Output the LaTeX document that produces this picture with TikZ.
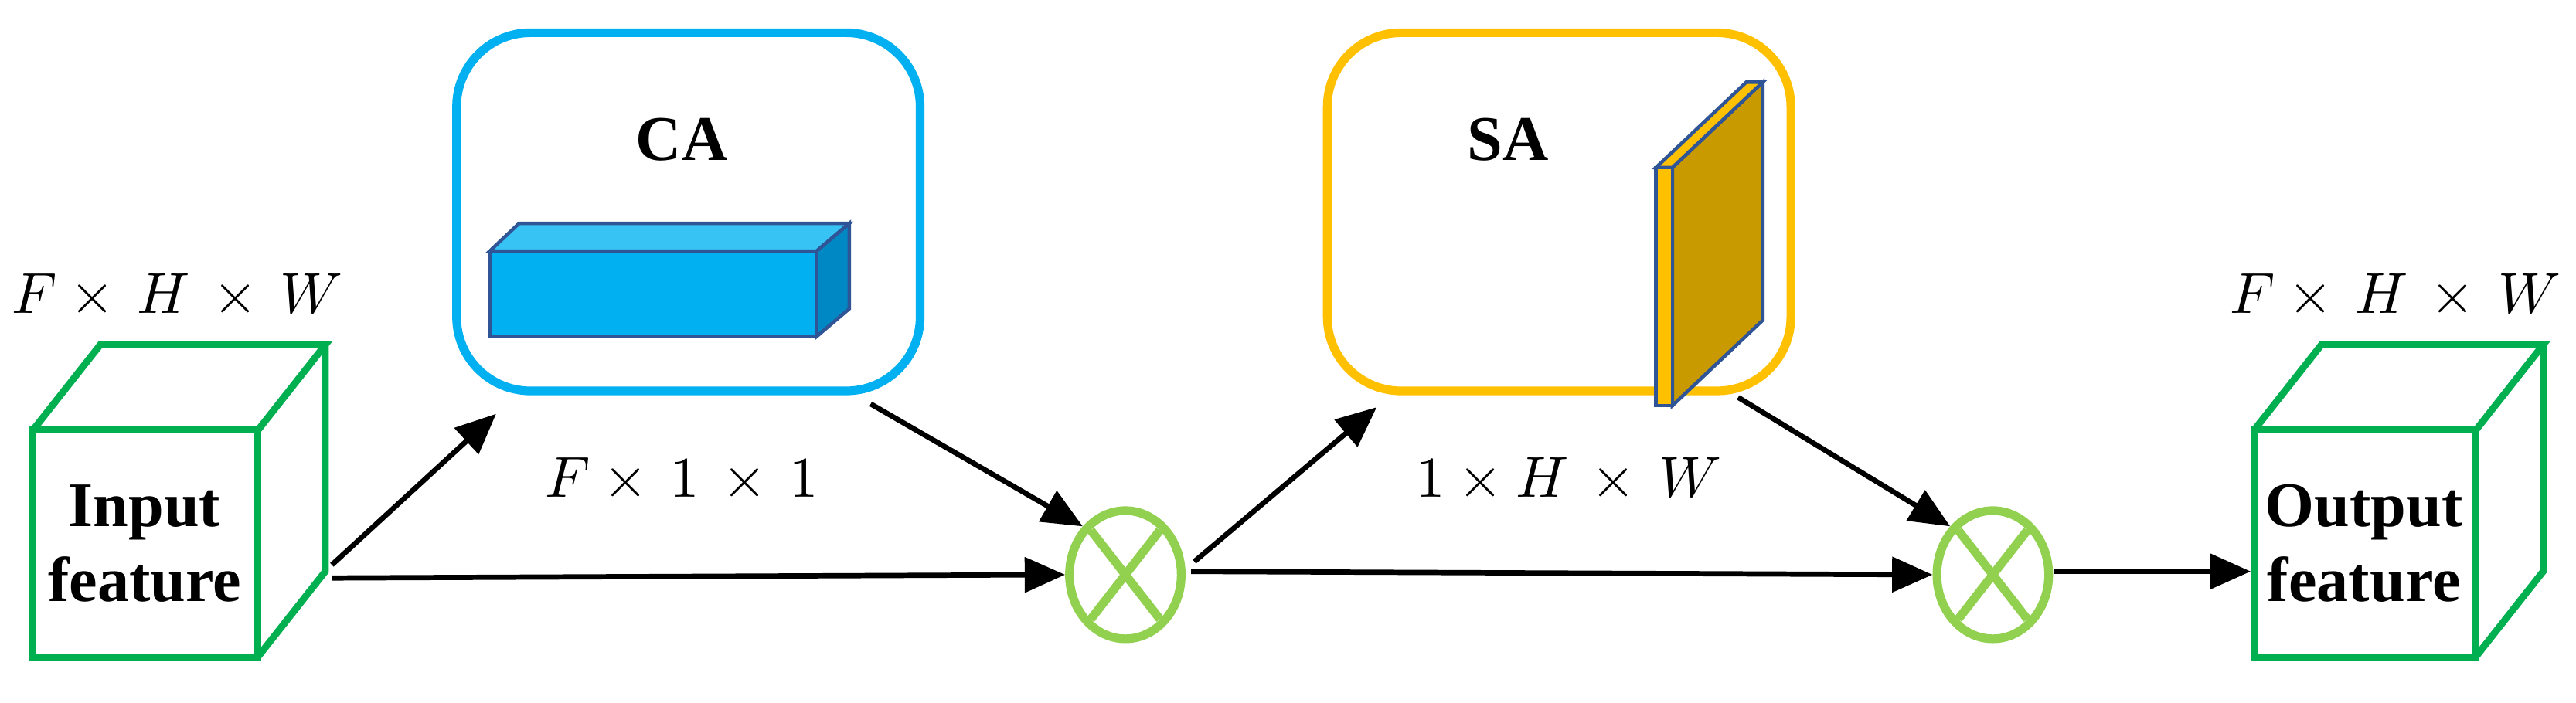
\documentclass[tikz,border=0pt]{standalone}
\usepackage{fontspec}
\setmainfont{Liberation Serif}
\usetikzlibrary{arrows.meta,shapes.geometric}
\definecolor{cablue}{HTML}{00B0F0}
\definecolor{catop}{HTML}{38C3F5}
\definecolor{caside}{HTML}{0088C4}
\definecolor{edge}{HTML}{2F5597}
\definecolor{saor}{HTML}{FFC000}
\definecolor{sabrown}{HTML}{C99A00}
\definecolor{cgreen}{HTML}{00B050}
\definecolor{lgreen}{HTML}{92D050}
\begin{document}
\begin{tikzpicture}[x=0.01cm,y=-0.01cm,
  cube/.style={draw=cgreen,line width=1.2pt,line join=miter},
  att/.style={draw,line width=1.5pt,rounded corners=0.45cm},
  lab/.style={font=\fontsize{11}{13}\selectfont\bfseries,align=center},
  dim/.style={font=\fontsize{10}{11}\selectfont},
  arr/.style={line width=0.9pt,-{Triangle[length=7pt,width=6pt]}},
  mul/.style={ellipse,draw=lgreen,line width=1.5pt,minimum width=0.68cm,minimum height=0.78cm,inner sep=0pt}]
\useasboundingbox (0,0) rectangle (1568,428);
% input cube
\draw[cube] (20,262) rectangle (157,400);
\draw[cube] (20,262) -- (61,210) -- (198,210) -- (157,262) (198,210) -- (198,348) -- (157,400);
\node[lab] (inp) at (88,331) {Input\\feature};
\node[dim] (d1) at (108,180) {$F\times\, H\,\times\, W$};
% output cube
\draw[cube] (1372,262) rectangle (1507,400);
\draw[cube] (1372,262) -- (1413,210) -- (1548,210) -- (1507,262) (1548,210) -- (1548,348) -- (1507,400);
\node[lab] (out) at (1439,331) {Output\\feature};
\node[dim] (d3) at (1458,180) {$F\times\, H\,\times\, W$};
% CA
\node[att,draw=cablue,minimum width=2.82cm,minimum height=2.18cm] (ca) at (419,129) {};
\node[lab] (calab) at (415,85) {CA};
\draw[edge,fill=cablue,line width=0.6pt] (298,153) rectangle (497,205);
\draw[edge,fill=catop,line width=0.6pt] (298,153) -- (316,136) -- (517,136) -- (497,153) -- cycle;
\draw[edge,fill=caside,line width=0.6pt] (497,153) -- (517,136) -- (517,188) -- (497,205) -- cycle;
\node[dim] (d2) at (415,292) {$F\times\, 1\,\times\, 1$};
% SA
\node[att,draw=saor,minimum width=2.82cm,minimum height=2.18cm] (sa) at (949,129) {};
\node[lab] (salab) at (918,85) {SA};
\draw[edge,fill=sabrown,line width=0.6pt] (1018,102) -- (1073,50) -- (1073,195) -- (1018,247) -- cycle;
\draw[edge,fill=saor,line width=0.6pt] (1008,102) -- (1063,50) -- (1073,50) -- (1018,102) -- cycle;
\draw[edge,fill=saor,line width=0.6pt] (1008,102) rectangle (1018,247);
\node[dim] (d4) at (955,292) {$1\times H\,\times\, W$};
% multipliers
\node[mul] (m1) at (685,350) {};
\draw[lgreen,line width=1.5pt] ([shift={(-21,-27)}]m1.center) -- ([shift={(21,27)}]m1.center)
  ([shift={(21,-27)}]m1.center) -- ([shift={(-21,27)}]m1.center);
\node[mul] (m2) at (1213,350) {};
\draw[lgreen,line width=1.5pt] ([shift={(-21,-27)}]m2.center) -- ([shift={(21,27)}]m2.center)
  ([shift={(21,-27)}]m2.center) -- ([shift={(-21,27)}]m2.center);
% connector end coordinates
\coordinate (i1) at (202,352);
\coordinate (i2) at (202,344);
\coordinate (caIn) at (302,252);
\coordinate (caOut) at (530,246);
\coordinate (m1o) at (725,348);
\coordinate (m1o2) at (727,342);
\coordinate (saIn) at (838,248);
\coordinate (saOut) at (1058,242);
\coordinate (m2o) at (1250,348);
\draw[arr] (i1) -- (m1.west);
\draw[arr] (i2) -- (caIn);
\draw[arr] (caOut) -- (m1.north west);
\draw[arr] (m1o) -- (m2.west);
\draw[arr] (m1o2) -- (saIn);
\draw[arr] (saOut) -- (m2.north west);
\draw[arr] (m2o) -- (1370,348);
\end{tikzpicture}
\end{document}
